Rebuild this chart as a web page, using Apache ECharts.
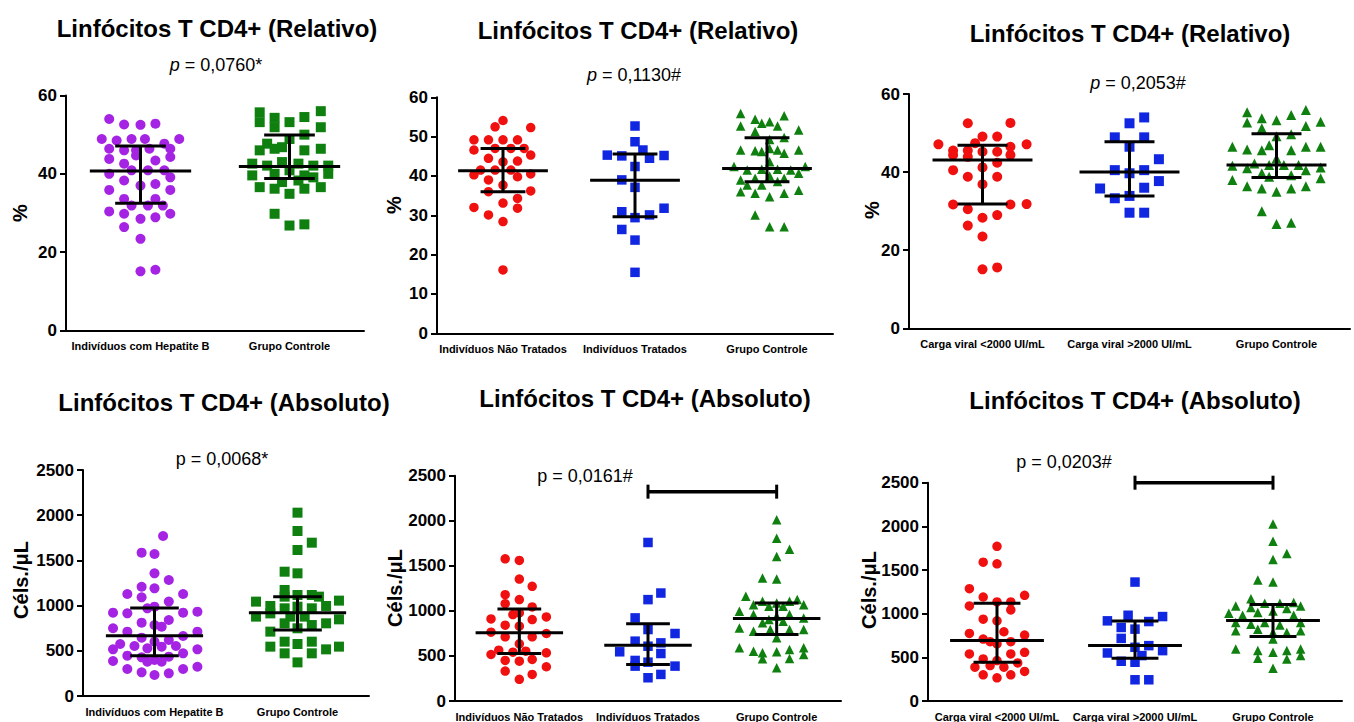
<!DOCTYPE html>
<html><head><meta charset="utf-8">
<script src="https://cdn.jsdelivr.net/npm/echarts@6/dist/echarts.min.js"></script>
<style>html,body{margin:0;padding:0;background:#fff}#c{width:1354px;height:722px}</style>
</head><body><div id="c"></div>
<script>
// ---------------- categories ----------------
const cats1 = ['Indivíduos com Hepatite B', 'Grupo Controle'];
const cats2 = ['Indivíduos Não Tratados', 'Indivíduos Tratados', 'Grupo Controle'];
const cats3 = ['Carga viral <2000 UI/mL', 'Carga viral >2000 UI/mL', 'Grupo Controle'];

const titleRel = 'Linfócitos T CD4+ (Relativo)';
const titleAbs = 'Linfócitos T CD4+ (Absoluto)';
const pValues = ['0,0760*', '0,1130#', '0,2053#', '0,0068*', '0,0161#', '0,0203#'];
const yTicksRel13 = [0, 60, 20];
const yTicksRel2 = [0, 60, 10];
const yTicksAbs = [0, 2500, 500];

// ---------------- points: [jitter (category units), value] ----------------
const rel1_hepB = [[-0.21,54.0],[-0.11,52.6],[0,52.5],[0.10,52.8],
[-0.26,48.9],[-0.16,48.5],[-0.06,48.9],[0.03,48.9],[0.16,47.7],[0.26,48.9],
[-0.21,46.4],[-0.11,46.0],[-0.03,46.0],[0.06,46.4],[0.10,43.4],[0.20,46.4],
[-0.21,43.8],[-0.11,42.6],[-0.03,44.7],[0.20,44.3],
[-0.21,40.0],[-0.06,40.9],[0.05,40.9],[0.16,40.9],[0.20,39.1],
[-0.11,38.3],[0,37.0],[0.10,37.4],[-0.21,35.9],[0.20,35.9],
[-0.11,33.6],[-0.06,31.9],[0.05,31.9],[0.10,33.6],[0.15,31.9],
[-0.21,30.4],[-0.11,29.8],[0,28.5],[0.10,28.9],[0.20,29.8],
[-0.11,26.4],[0,23.4],[0,15.1],[0.10,15.5]];
const rel1_ctrl = [[-0.20,55.7],[-0.20,53.2],[-0.10,54.3],[-0.10,51.9],[0,53.2],[0.10,54.5],[0.21,56.0],[0.21,51.9],[0.10,50.0],[0,48.9],
[-0.20,46.0],[-0.15,47.7],[-0.05,46.8],[0.10,46.0],[0.21,46.4],[-0.10,46.4],
[-0.25,42.6],[-0.15,42.1],[-0.05,43.0],[0.06,42.6],[0.16,42.1],[0.26,42.1],
[-0.10,40.0],[0,40.9],[0.10,39.6],[-0.25,39.6],[0.26,40.0],[0.16,39.1],
[-0.05,37.9],[0.06,38.3],
[-0.20,36.6],[-0.10,36.2],[0,34.9],[0.10,36.2],[0.21,36.6],
[-0.10,29.8],[0,26.8],[0.10,27.1]];

const rel2_naoTrat = [[0,54.1],[-0.06,52.5],[0.21,52.3],
[-0.22,49.2],[-0.11,49.2],[0,49.2],[0.11,49.2],
[-0.06,47.0],[0.06,47.0],[0.16,47.0],[-0.22,46.6],[0.21,45.3],
[-0.11,44.5],[0.11,43.8],[0,43.6],
[-0.17,41.5],[-0.22,40.3],[-0.06,41.5],[0.06,41.5],[0.21,40.5],
[-0.11,39.0],[0.11,39.8],[0,37.7],
[-0.11,36.0],[0.21,36.2],[0.11,34.3],
[-0.22,32.0],[0,33.1],[0.11,31.8],[-0.11,30.1],[0,28.4],[0,16.1]];
const rel2_trat = [[0,52.7],[0,48.7],[0.06,46.6],[-0.21,45.3],[-0.10,45.1],[0.11,44.5],[0.22,45.2],[0,42.4],[-0.10,39.0],[0,37.1],[-0.10,30.9],[0,29.4],[0.11,30.1],[0.22,31.8],[-0.10,26.4],[0,23.7],[0,15.5]];
const rel2_ctrl = [[-0.20,55.9],[-0.09,54.4],[-0.04,53.4],[0.02,53.8],[0.13,55.3],[-0.20,52.7],[0.08,52.7],[0.24,51.7],[-0.09,51.3],[0.02,49.3],[0.13,49.8],
[-0.20,46.6],[-0.09,46.4],[0.02,47.0],[0.08,46.6],[0.13,45.8],[0.24,46.6],[-0.04,46.2],
[-0.25,42.4],[-0.15,41.5],[-0.04,41.7],[0.08,41.7],[0.18,41.5],[0.29,42.4],[0.02,43.6],
[-0.20,39.0],[-0.09,39.4],[0.02,40.0],[0.13,39.4],[0.24,40.7],
[-0.15,37.7],[-0.04,37.7],[0.08,38.6],
[-0.20,36.0],[-0.09,35.6],[0.02,34.7],[0.13,35.6],[0.24,36.4],
[-0.09,30.1],[0.02,27.1],[0.13,27.1]];

const rel3_cvBaixa = [[-0.10,52.5],[0.19,52.6],[-0.30,47.1],[-0.20,45.5],[-0.10,45.5],[-0.05,47.4],[0,49.1],[0.10,49.1],[0,45.2],[0.10,45.2],[0.19,46.5],[0.19,44.4],[0.30,47.1],
[-0.20,44.4],[-0.10,43.9],[0.10,42.4],[-0.20,40.5],[0,41.2],[-0.10,38.8],[0.10,38.8],[0,36.9],
[-0.20,31.7],[0.19,31.7],[0.30,31.8],[-0.10,30.5],[0.10,29.0],[0,28.3],[-0.10,26.3],[0,23.5],[0,15.1],[0.10,15.6]];
const rel3_cvAlta = [[0.10,54.0],[0,52.5],[-0.10,48.9],[0.10,48.9],[0,46.5],[0.20,43.3],[-0.10,40.5],[0.10,40.5],[0,39.7],[0.20,37.7],[-0.20,35.8],[0.10,36.0],[-0.10,33.3],[0,33.9],[0,29.6],[0.10,29.6]];
const rel3_ctrl = [[-0.20,55.3],[0.10,54.6],[0.20,55.9],[-0.20,52.7],[-0.10,53.8],[0,53.3],[0.20,51.8],[0.30,52.9],[-0.10,51.2],[0,49.2],[0.10,49.7],
[-0.30,46.5],[-0.20,45.8],[-0.10,45.6],[-0.05,46.9],[0.10,45.6],[0.20,46.5],[0.30,46.5],[0,43.5],
[-0.30,41.6],[-0.20,41.0],[-0.15,42.2],[-0.05,41.8],[0.05,41.8],[0.15,41.8],[0.20,40.5],[0.30,41.2],
[-0.10,39.7],[-0.05,38.8],[0.10,39.2],[-0.30,38.0],[0.30,38.4],
[-0.20,36.4],[-0.10,35.8],[0,35.0],[0.10,35.8],[0.20,36.4],
[-0.10,30.0],[0,26.7],[0.10,27.0]];

const abs1_hepB = [[0.06,1770],[-0.09,1586],[0,1571],[0,1357],[0.10,1283],[-0.09,1209],[0,1191],[-0.19,1128],[0.20,1128],[-0.09,1091],[0.10,1044],
[-0.29,922],[-0.19,914],[-0.05,970],[0,988],[0.20,922],[0.30,933],
[-0.09,811],[0.10,841],[0,785],[0.05,767],[-0.29,749],[-0.19,712],[0.20,664],[0.30,712],
[-0.09,645],[0,601],[0.10,619],[-0.24,575],[-0.29,516],[-0.14,553],[-0.05,527],[0.05,546],[0.15,553],[0.30,516],
[-0.19,446],[0.20,472],[-0.09,428],[0,398],[0.10,435],[-0.29,387],[-0.05,380],[0.05,380],
[-0.19,299],[0.20,299],[0.30,324],[-0.09,262],[0,232],[0.10,251]];
const abs1_ctrl = [[0,2028],[0,1825],[0,1615],[0.10,1696],[-0.09,1375],[0,1357],[-0.09,1173],
[-0.29,1044],[-0.19,996],[-0.09,1099],[0,1117],[0.10,1117],[0.15,1099],[0.20,996],[0.29,1055],
[-0.29,878],[-0.19,914],[-0.09,970],[0,988],[0.10,970],[-0.05,878],[0.05,878],[0.29,848],
[-0.19,712],[-0.09,804],[0,749],[0.10,785],[0.20,804],
[-0.09,601],[0.10,601],[-0.19,546],[-0.09,472],[0,575],[0.10,472],[0.20,516],[0.29,546],[0,372]];

const abs2_naoTrat = [[-0.11,1578],[0,1560],[0,1353],[0.10,1272],[-0.11,1180],[0,1125],[-0.11,1080],[0.10,1044],
[-0.22,911],[-0.05,959],[0,977],[0.10,903],[0.21,933],[-0.11,841],[0,830],
[-0.22,763],[-0.11,712],[0.10,712],[0.21,749],[0,634],
[-0.22,516],[-0.16,564],[-0.05,542],[0.05,553],[0.21,535],
[-0.11,450],[0,442],[0.10,461],[0.21,380],[-0.11,332],[0.10,295],[0,240]];
const abs2_trat = [[0,1759],[0.10,1198],[0,1125],[-0.10,922],[0,793],[0.21,749],[-0.10,664],[0,608],[0.10,645],[-0.22,546],[0.10,527],[-0.10,450],[0,431],[-0.10,387],[0.21,387],[0.10,295],[0,258]];
const abs2_ctrl = [[0,2010],[0,1807],[0.10,1685],[0,1604],[-0.11,1364],[0,1353],
[-0.24,1161],[-0.11,1106],[0,1088],[0.10,1106],[0.16,1125],[0.21,1069],
[-0.29,996],[-0.18,959],[-0.06,1051],[0.05,1051],[-0.18,1069],[0.21,922],
[-0.11,867],[-0.06,903],[0,940],[0.05,885],[0.10,959],
[-0.29,811],[-0.18,774],[-0.05,793],[0.10,793],[0.21,793],[0,701],
[-0.29,590],[-0.18,553],[-0.11,468],[0,546],[0.10,572],[0.10,472],[0.21,590],[0.21,516],[0,369],[-0.11,535]];

const abs3_cvBaixa = [[0,1772],[-0.10,1590],[0,1571],[-0.20,1286],[0.20,1210],[-0.10,1191],[-0.20,1089],[0,1134],[0.10,1134],[0.10,1043],
[-0.10,937],[0,918],[-0.20,774],[-0.10,709],[0.05,793],[0.20,755],[0,653],[0.10,679],[-0.05,679],
[-0.20,539],[-0.10,482],[0,463],[0.10,539],[0.20,558],[-0.05,406],[-0.16,387],[0.05,387],[0.15,436],
[-0.10,300],[0.10,300],[0.20,338],[0,266]];
const abs3_cvAlta = [[0,1362],[-0.20,918],[-0.05,982],[0.10,910],[0.20,967],[-0.10,842],[0,823],[-0.10,717],[0,615],[0.10,634],[-0.20,550],[0.20,577],[-0.10,455],[0,444],[0,243],[0.10,243],[0.05,520]];
const abs3_ctrl = [[0,2026],[0,1829],[0.10,1688],[0,1620],[-0.11,1385],[0,1362],
[-0.16,1172],[-0.27,1089],[-0.16,1070],[-0.06,1119],[0.05,1119],[0.15,1127],[0.20,1089],
[-0.32,1005],[-0.22,982],[-0.11,1013],[0,1032],[0.10,1058],[0.15,982],
[-0.27,899],[-0.16,880],[-0.06,899],[0.05,869],[0.20,899],
[-0.27,804],[-0.11,823],[0,785],[0.10,785],[0.20,804],[0,709],
[-0.27,596],[-0.11,577],[0.10,577],[0.20,596],[-0.11,489],[0,558],[0.10,482],[0.20,520],[0,376]];

// ---------------- summary lines: [median, q1, q3] ----------------
const stats1 = [[40.7, 32.5, 47.1], [41.9, 38.8, 49.9]];
const stats2 = [[41.3, 36.0, 47.0], [38.9, 29.6, 45.6], [41.9, 38.5, 49.7]];
const stats3 = [[43.1, 31.8, 46.9], [40.0, 33.9, 47.8], [41.8, 38.6, 49.8]];
const stats4 = [[667, 446, 973], [921, 730, 1098]];
const stats5 = [[757, 528, 1022], [620, 406, 856], [915, 738, 1088]];
const stats6 = [[694, 444, 1119], [637, 489, 917], [922, 740, 1104]];

// brackets: [fromCategory, toCategory, value]
const bracket5 = [1, 2, 2323];
const bracket6 = [1, 2, 2500];

// ---------------- styles ----------------
const FONT = '"Liberation Sans", Arial, Helvetica, sans-serif';
const PURPLE = '#A524E4', GREEN = '#0F800F', RED = '#F01010', BLUE = '#1026E0';
const MED_HALF = 0.34, Q_HALF = 0.17;

const panels = [
  {grid:{left:66, top:95.5, width:298, height:235}, cats:cats1, yt:yTicksRel13, size:10,
   groups:[{d:rel1_hepB, s:'circle', c:PURPLE}, {d:rel1_ctrl, s:'rect', c:GREEN}], stats:stats1,
   title:titleRel, tpos:[217,28], p:pValues[0], ital:true, ppos:[216,65], yName:'%', ypos:[20,213]},
  {grid:{left:437, top:97.3, width:396, height:236}, cats:cats2, yt:yTicksRel2, size:9.5,
   groups:[{d:rel2_naoTrat, s:'circle', c:RED}, {d:rel2_trat, s:'rect', c:BLUE}, {d:rel2_ctrl, s:'triangle', c:GREEN}], stats:stats2,
   title:titleRel, tpos:[638,30], p:pValues[1], ital:true, ppos:[634,75], yName:'%', ypos:[394,205]},
  {grid:{left:909, top:94, width:441, height:234.3}, cats:cats3, yt:yTicksRel13, size:10,
   groups:[{d:rel3_cvBaixa, s:'circle', c:RED}, {d:rel3_cvAlta, s:'rect', c:BLUE}, {d:rel3_ctrl, s:'triangle', c:GREEN}], stats:stats3,
   title:titleRel, tpos:[1130,33], p:pValues[2], ital:true, ppos:[1138,83], yName:'%', ypos:[872,210]},
  {grid:{left:83, top:470, width:286, height:226}, cats:cats1, yt:yTicksAbs, size:10,
   groups:[{d:abs1_hepB, s:'circle', c:PURPLE}, {d:abs1_ctrl, s:'rect', c:GREEN}], stats:stats4,
   title:titleAbs, tpos:[224,402], p:pValues[3], ital:false, ppos:[222,459], yName:'Céls./μL', ypos:[21,580]},
  {grid:{left:455, top:475.7, width:386, height:226}, cats:cats2, yt:yTicksAbs, size:9.5,
   groups:[{d:abs2_naoTrat, s:'circle', c:RED}, {d:abs2_trat, s:'rect', c:BLUE}, {d:abs2_ctrl, s:'triangle', c:GREEN}], stats:stats5,
   title:titleAbs, tpos:[645,398], p:pValues[4], ital:false, ppos:[585,476], yName:'Céls./μL', ypos:[395,588], bracket:bracket5},
  {grid:{left:928, top:482.7, width:414, height:219.6}, cats:cats3, yt:yTicksAbs, size:9.5,
   groups:[{d:abs3_cvBaixa, s:'circle', c:RED}, {d:abs3_cvAlta, s:'rect', c:BLUE}, {d:abs3_ctrl, s:'triangle', c:GREEN}], stats:stats6,
   title:titleAbs, tpos:[1135,400], p:pValues[5], ital:false, ppos:[1064,462], yName:'Céls./μL', ypos:[869,590], bracket:bracket6}
];

function seg(a, b, w) {
  return {type:'line', shape:{x1:a[0], y1:a[1], x2:b[0], y2:b[1]}, style:{stroke:'#000', lineWidth:w}};
}
function renderStats(params, api) {
  const c = api.value(0), med = api.value(1), q1 = api.value(2), q3 = api.value(3);
  return {type:'group', children:[
    seg(api.coord([c - MED_HALF, med]), api.coord([c + MED_HALF, med]), 3),
    seg(api.coord([c - Q_HALF, q1]), api.coord([c + Q_HALF, q1]), 3),
    seg(api.coord([c - Q_HALF, q3]), api.coord([c + Q_HALF, q3]), 3),
    seg(api.coord([c, q1]), api.coord([c, q3]), 3)
  ]};
}
function renderBracket(params, api) {
  const a = api.coord([api.value(0), api.value(2)]);
  const b = api.coord([api.value(1), api.value(2)]);
  return {type:'group', children:[
    seg(a, b, 3.5),
    seg([a[0], a[1] - 7], [a[0], a[1] + 7], 3),
    seg([b[0], b[1] - 7], [b[0], b[1] + 7], 3)
  ]};
}

const grid = [], xAxis = [], yAxis = [], series = [], graphic = [];
panels.forEach((P, i) => {
  grid.push(Object.assign({containLabel:false}, P.grid));
  xAxis.push({type:'category', gridIndex:i, data:P.cats, boundaryGap:true, position:'bottom',
    axisLine:{onZero:false, lineStyle:{color:'#000', width:2}},
    axisTick:{alignWithLabel:true, length:6, lineStyle:{color:'#000', width:2}},
    axisLabel:{color:'#000', fontWeight:'bold', fontSize:11, fontFamily:FONT, margin:10, interval:0},
    splitLine:{show:false}});
  xAxis.push({type:'value', gridIndex:i, show:false, min:-0.5, max:P.cats.length - 0.5, splitLine:{show:false}});
  yAxis.push({type:'value', gridIndex:i, min:P.yt[0], max:P.yt[1], interval:P.yt[2],
    axisLine:{show:true, onZero:false, lineStyle:{color:'#000', width:2}},
    axisTick:{show:true, length:6, lineStyle:{color:'#000', width:2}},
    axisLabel:{color:'#000', fontWeight:'bold', fontSize:17, fontFamily:FONT, margin:9, formatter:v => String(v)},
    splitLine:{show:false}});
  P.groups.forEach((g, k) => {
    series.push({type:'scatter', xAxisIndex:2*i+1, yAxisIndex:i, symbol:g.s, symbolSize:P.size,
      itemStyle:{color:g.c, opacity:1}, data:g.d.map(d => [k + d[0], d[1]]), silent:true, z:2});
  });
  series.push({type:'custom', xAxisIndex:2*i+1, yAxisIndex:i, silent:true, z:5,
    data:P.stats.map((s, k) => [k, s[0], s[1], s[2]]), renderItem:renderStats});
  if (P.bracket) {
    series.push({type:'custom', xAxisIndex:2*i+1, yAxisIndex:i, silent:true, z:5, clip:false,
      data:[P.bracket], renderItem:renderBracket});
  }
  graphic.push({type:'text', x:P.tpos[0], y:P.tpos[1], silent:true,
    style:{text:P.title, fill:'#000', fontSize:24, fontWeight:'bold', fontFamily:FONT, align:'center', verticalAlign:'middle'}});
  graphic.push({type:'text', x:P.ppos[0], y:P.ppos[1], silent:true,
    style:{text:'{i|p}{n| = ' + P.p + '}', fill:'#000', fontSize:18, fontFamily:FONT, align:'center', verticalAlign:'middle',
      rich:{i:{fontStyle:P.ital ? 'italic' : 'normal', fontSize:18, fontFamily:FONT, fill:'#000'},
            n:{fontSize:18, fontFamily:FONT, fill:'#000'}}}});
  graphic.push({type:'text', x:P.ypos[0], y:P.ypos[1], rotation:Math.PI/2, silent:true,
    style:{text:P.yName, fill:'#000', fontSize:20, fontWeight:'bold', fontFamily:FONT, align:'center', verticalAlign:'middle'}});
});

const chart = echarts.init(document.getElementById('c'), null, {renderer:'svg'});
chart.setOption({backgroundColor:'#fff', animation:false, grid, xAxis, yAxis, series, graphic});
</script></body></html>
